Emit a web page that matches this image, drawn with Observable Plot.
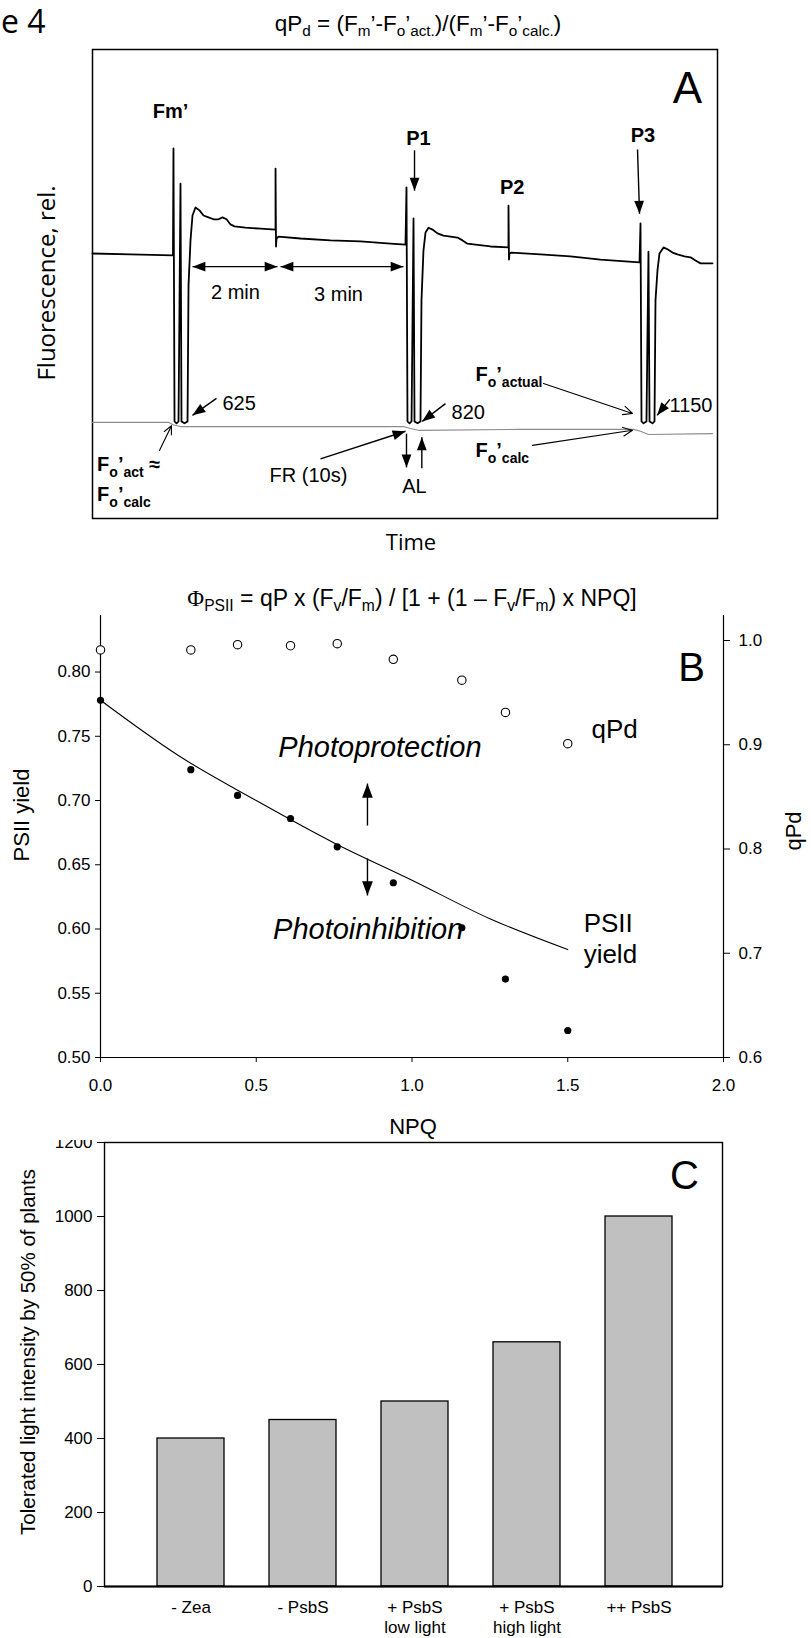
<!DOCTYPE html>
<html><head><meta charset="utf-8">
<script src="https://cdn.jsdelivr.net/npm/d3@7"></script>
<script src="https://cdn.jsdelivr.net/npm/@observablehq/plot@0.6"></script>
<style>
body{margin:0;background:#fff;}
#page{position:relative;width:811px;height:1638px;overflow:hidden;font-family:"Liberation Sans",Arial,sans-serif;color:#000;background:#fff;}
.abs{position:absolute;white-space:nowrap;line-height:1;}
.sb{font-size:0.68em;position:relative;top:0.32em;}
.plot{position:absolute;left:0;}
</style></head><body><div id="page"></div>
<script>
const FONT = '"Liberation Sans", Arial, Helvetica, sans-serif';
const OPEN = '"Open Sans", "Liberation Sans", sans-serif';

// ---------------- Panel A: fluorescence trace (time s, relative fluorescence) ----------------
const traceTime = [0,53.5,113.3,114.0,115.5,118.3,121.1,123.9,125.3,129.5,133.8,135.2,138.0,140.8,145.0,150.7,156.3,163.3,170.4,177.4,183.0,188.7,194.3,199.9,215.4,236.5,257.7,257.7,258.4,259.1,261.9,292.9,335.1,377.3,419.6,440.7,442.1,443.5,446.3,449.2,452.0,453.4,457.6,461.8,463.2,466.0,468.9,473.1,478.7,485.8,494.2,504.1,513.9,521.0,528.0,539.3,560.4,585.7,585.7,586.4,587.1,589.9,630.8,673.0,715.3,770.2,771.6,773.0,775.8,780.0,782.8,784.3,788.5,791.3,792.7,795.5,798.3,804.0,809.6,816.6,823.7,833.5,842.0,849.0,856.1,864.5,873.0];
const traceFluo = [56.5,56.3,56.1,78.9,20.7,20.3,20.7,71.4,20.7,20.3,20.7,49.7,59.3,64.6,66.3,65.7,64.6,64.2,63.8,63.8,64.2,63.8,62.7,62.3,62.0,61.8,61.6,74.6,58.0,59.7,60.1,59.7,59.3,59.1,58.6,58.4,70.6,20.7,20.3,20.7,64.0,20.7,20.3,20.7,46.5,57.1,61.0,62.0,61.6,60.8,60.3,60.1,59.9,59.3,58.6,58.4,58.0,57.8,66.7,55.2,56.5,56.7,56.3,55.9,55.2,54.6,62.9,20.7,20.3,20.7,56.9,20.7,20.3,20.7,46.5,52.9,56.5,57.8,57.4,56.7,56.3,55.9,55.7,55.0,54.4,54.4,54.4];
const calcTime = [0,107.0,113.3,123.9,437.9,447.7,459.0,602.6,761.8,771.6,782.8,873.0];
const calcFluo = [20.5,20.5,20.0,19.6,19.6,19.2,18.8,19.0,19.0,18.6,17.9,18.1];

// annotations of panel A (in time / fluorescence units)
const aBoldLabels = [
  {text:"Fm’", t:109.8, f:86.7},
  {text:"P1", t:459.0, f:80.9},
  {text:"P2", t:590.9, f:70.6},
  {text:"P3", t:775.1, f:81.6}
];
const aRichLabels = [
  {text:"F_{o}’_{act} ≈", t:6.5, f:11.5},
  {text:"F_{o}’_{calc}", t:6.5, f:5.1},
  {text:"F_{o}’_{actual}", t:539.3, f:30.7},
  {text:"F_{o}’_{calc}", t:539.3, f:14.5}
];
const aMidLabels = [
  {text:"2 min", t:201.3, f:48.2},
  {text:"3 min", t:346.4, f:47.8},
  {text:"FR (10s)", t:304.1, f:9.1},
  {text:"AL", t:453.4, f:6.8}
];
const aStartLabels = [
  {text:"625", t:183.0, f:24.4},
  {text:"820", t:505.5, f:22.5},
  {text:"1150", t:812.4, f:24.1}
];
const aSolidArrows = [
  {x1:453.4, y1:78.5, x2:453.4, y2:69.9},
  {x1:767.4, y1:78.7, x2:770.2, y2:65.0},
  {x1:174.6, y1:25.6, x2:140.8, y2:22.0},
  {x1:497.0, y1:24.5, x2:464.2, y2:20.7},
  {x1:812.9, y1:25.4, x2:795.0, y2:22.0},
  {x1:321.0, y1:12.7, x2:440.7, y2:18.6},
  {x1:442.1, y1:18.1, x2:442.1, y2:10.9},
  {x1:463.7, y1:10.7, x2:463.7, y2:17.3}
];
const aDoubleArrows = [
  {x1:140.8, x2:260.5, y:53.7},
  {x1:264.7, x2:437.9, y:53.7}
];
const aOpenArrows = [
  {x1:94.3, y1:14.5, x2:111.2, y2:19.8},
  {x1:635.0, y1:28.8, x2:760.3, y2:22.4},
  {x1:619.5, y1:15.6, x2:760.3, y2:18.8}
];

// ---------------- Panel B ----------------
const npq = [0, 0.29, 0.44, 0.61, 0.76, 0.94, 1.16, 1.30, 1.50];
const psiiYield = [0.778, 0.724, 0.704, 0.686, 0.664, 0.636, 0.601, 0.561, 0.521];
const qPd = [0.991, 0.991, 0.996, 0.995, 0.997, 0.982, 0.962, 0.931, 0.901];
const fitNpq = [0, 0.25, 0.5, 0.75, 1.0, 1.25, 1.5];
const fitYield = [0.778, 0.735, 0.700, 0.667, 0.638, 0.608, 0.584];
const npqTicks = [0, 0.5, 1.0, 1.5, 2.0];
const yieldTicks = [0.50, 0.55, 0.60, 0.65, 0.70, 0.75, 0.80];
const qPdTicks = [0.6, 0.7, 0.8, 0.9, 1.0];
const bItalic = [
  {text:"Photoprotection", x:0.571, y:0.7412},
  {text:"Photoinhibition", x:0.554, y:0.5992}
];
const bPlain = [
  {text:"PSII", x:1.551, y:0.6039},
  {text:"yield", x:1.551, y:0.580},
  {text:"qPd", x:1.576, y:0.7549}
];
const bArrows = [
  {x1:0.857, y1:0.6805, x2:0.857, y2:0.7132},
  {x1:0.857, y1:0.6549, x2:0.857, y2:0.6261}
];

// ---------------- Panel C ----------------
const groups = ["- Zea", "- PsbS", "+ PsbS\nlow light", "+ PsbS\nhigh light", "++ PsbS"];
const tolerated = [400, 450, 500, 660, 1000];
const lightTicks = [0, 200, 400, 600, 800, 1000, 1200];

// ---------------- helpers ----------------
const page = document.getElementById("page");
const tipSymbol = {draw(ctx, size){ const L = Math.sqrt(size)*1.45, w = L*0.38; ctx.moveTo(0,0); ctx.lineTo(-L,-w); ctx.lineTo(-L,w); ctx.closePath(); }};
function heads(arr, X, Y){
  return arr.map(d => ({x:d.x2, y:d.y2, angle: Math.atan2(Y(d.y2)-Y(d.y1), X(d.x2)-X(d.x1))*180/Math.PI}));
}
function place(svg, top){ svg.classList.add("plot"); svg.style.top = top+"px"; svg.style.left = "0px"; page.appendChild(svg); }
function label(html, x, y, o={}){
  const d = document.createElement("div"); d.className = "abs"; d.innerHTML = html;
  Object.assign(d.style, {left:x+"px", top:y+"px", fontSize:(o.size||22)+"px", fontFamily:o.family||FONT,
    fontWeight:o.weight||"normal", fontStyle:o.style||"normal",
    transform:`translate(${o.ax===undefined?-50:o.ax}%,-50%)${o.rotate?" rotate(-90deg)":""}`});
  page.appendChild(d); return d;
}
function richify(svg, fs){
  svg.querySelectorAll("text").forEach(t => {
    const s = t.textContent; if (!s.includes("_{")) return;
    while (t.firstChild) t.removeChild(t.firstChild);
    const parts = s.split(/(_\{[^}]*\})/).filter(p => p);
    let down = false; const sh = Math.round(fs*0.3);
    for (const p of parts){
      const ts = document.createElementNS("http://www.w3.org/2000/svg","tspan");
      if (p.startsWith("_{")){ ts.textContent = p.slice(2,-1); ts.setAttribute("font-size", Math.round(fs*0.68)); if(!down){ts.setAttribute("dy", sh); down = true;} }
      else { ts.textContent = p; if(down){ts.setAttribute("dy", -sh); down = false;} }
      t.appendChild(ts);
    }
  });
}

// ---------------- Panel A plot ----------------
const ax = d3.scaleLinear([0,880],[92,717]);
const ay = d3.scaleLinear([0,100],[518,49]);
const trace = traceTime.map((t,i)=>({t, f:traceFluo[i]}));
const calc = calcTime.map((t,i)=>({t, f:calcFluo[i]}));
const aDoubleAsSingle = aDoubleArrows.flatMap(d => [{x1:d.x2, y1:d.y, x2:d.x1, y2:d.y},{x1:d.x1, y1:d.y, x2:d.x2, y2:d.y}]);
const aHeads = heads([...aSolidArrows, ...aDoubleAsSingle], ax, ay);

const plotA = Plot.plot({
  width:811, height:545, marginLeft:92, marginRight:94, marginTop:49, marginBottom:27,
  style:{fontFamily:FONT, background:"transparent", color:"black"},
  x:{domain:[0,880], axis:null}, y:{domain:[0,100], axis:null},
  marks:[
    Plot.frame({stroke:"black", strokeWidth:1.5}),
    Plot.line(calc, {x:"t", y:"f", stroke:"#8c8c8c", strokeWidth:1.1}),
    Plot.line(trace, {x:"t", y:"f", stroke:"black", strokeWidth:1.8}),
    Plot.link(aSolidArrows, {x1:"x1", y1:"y1", x2:"x2", y2:"y2", stroke:"black", strokeWidth:1.4}),
    Plot.link(aDoubleArrows, {x1:"x1", y1:"y", x2:"x2", y2:"y", stroke:"black", strokeWidth:1.4}),
    Plot.dot(aHeads, {x:"x", y:"y", r:5, symbol:tipSymbol, rotate:"angle", fill:"black", stroke:"none"}),
    Plot.arrow(aOpenArrows, {x1:"x1", y1:"y1", x2:"x2", y2:"y2", stroke:"black", strokeWidth:1.1, headLength:14, headAngle:50}),
    Plot.text(aBoldLabels, {x:"t", y:"f", text:"text", fontSize:20, fontWeight:"bold", textAnchor:"middle"}),
    Plot.text(aRichLabels, {x:"t", y:"f", text:"text", fontSize:20, fontWeight:"bold", textAnchor:"start"}),
    Plot.text(aMidLabels, {x:"t", y:"f", text:"text", fontSize:20, textAnchor:"middle"}),
    Plot.text(aStartLabels, {x:"t", y:"f", text:"text", fontSize:20, textAnchor:"start"}),
    Plot.text(["A"], {frameAnchor:"top-right", dx:-30, dy:39, text:d=>d, fontSize:44, textAnchor:"middle", lineAnchor:"middle"})
  ]
});
richify(plotA, 20);
place(plotA, 0);

// ---------------- Panel B plots ----------------
const pts = npq.map((x,i)=>({x, y:psiiYield[i], q:qPd[i]}));
const fit = fitNpq.map((x,i)=>({x, y:fitYield[i]}));
const bHeads = heads(bArrows, d3.scaleLinear([0,2],[100,723]), d3.scaleLinear([0.5,0.844],[1057,615]));
const plotB = Plot.plot({
  width:811, height:510, marginLeft:100, marginRight:88, marginTop:15, marginBottom:53,
  style:{fontFamily:FONT, fontSize:"17px", background:"transparent", color:"black"},
  x:{domain:[0,2], ticks:npqTicks, tickFormat:".1f", tickSize:5, tickPadding:16, label:null},
  y:{domain:[0.5,0.844], ticks:yieldTicks, tickFormat:".2f", tickSize:5, tickPadding:5, label:null},
  marks:[
    Plot.ruleX([0], {stroke:"black", strokeWidth:1.2}),
    Plot.ruleX([2], {stroke:"black", strokeWidth:1.2}),
    Plot.ruleY([0.5], {stroke:"black", strokeWidth:1.2}),
    Plot.line(fit, {x:"x", y:"y", curve:"monotone-x", stroke:"black", strokeWidth:1.1}),
    Plot.dot(pts, {x:"x", y:"y", r:3.6, fill:"black", stroke:"none"}),
    Plot.link(bArrows, {x1:"x1", y1:"y1", x2:"x2", y2:"y2", stroke:"black", strokeWidth:1.4}),
    Plot.dot(bHeads, {x:"x", y:"y", r:5.5, symbol:tipSymbol, rotate:"angle", fill:"black", stroke:"none"}),
    Plot.text(bItalic, {x:"x", y:"y", text:"text", fontSize:29, fontStyle:"italic", textAnchor:"start"}),
    Plot.text(bPlain, {x:"x", y:"y", text:"text", fontSize:26, textAnchor:"start"}),
    Plot.text(["B"], {frameAnchor:"top-right", dx:-32, dy:53, text:d=>d, fontSize:40, textAnchor:"middle", lineAnchor:"middle"})
  ]
});
place(plotB, 600);

const plotB2 = Plot.plot({
  width:811, height:510, marginLeft:100, marginRight:88, marginTop:15, marginBottom:53,
  style:{fontFamily:FONT, fontSize:"17px", background:"transparent", color:"black"},
  x:{domain:[0,2], axis:null},
  y:{domain:[0.6,1.024], axis:"right", ticks:qPdTicks, tickFormat:".1f", tickSize:6, tickPadding:9, label:null},
  marks:[
    Plot.dot(pts, {x:"x", y:"q", r:4.2, fill:"white", stroke:"black", strokeWidth:1.1})
  ]
});
place(plotB2, 600);

// ---------------- Panel C plot ----------------
const bars = groups.map((g,i)=>({g, v:tolerated[i]}));
const plotC = Plot.plot({
  width:811, height:508, marginLeft:104, marginRight:89, marginTop:12, marginBottom:52,
  style:{fontFamily:FONT, fontSize:"17px", background:"transparent", color:"black"},
  x:{domain:groups, range:[133.75, 696.25], paddingInner:0.4, paddingOuter:0.2, axis:null},
  y:{domain:[0,1200], ticks:lightTicks, tickFormat:d3.format("d"), tickSize:7, tickPadding:5, label:null},
  marks:[
    Plot.barY(bars, {x:"g", y:"v", fill:"#c0c0c0", stroke:"black", strokeWidth:1.3}),
    Plot.frame({stroke:"black", strokeWidth:1.4}),
    Plot.ruleY([0], {stroke:"black", strokeWidth:2}),
    Plot.text(groups, {x:d=>d, text:d=>d, frameAnchor:"bottom", lineAnchor:"top", dy:13, fontSize:17, lineHeight:1.15}),
    Plot.text(["C"], {frameAnchor:"top-right", dx:-38, dy:34, text:d=>d, fontSize:40, textAnchor:"middle", lineAnchor:"middle"})
  ]
});
place(plotC, 1130);

// ---------------- titles and axis labels ----------------
label("e 4", 1, 21, {size:32, family:OPEN, ax:0});
label('qP<span class="sb">d</span> = (F<span class="sb">m</span>’-F<span class="sb">o</span>’<span class="sb">act.</span>)/(F<span class="sb">m</span>’-F<span class="sb">o</span>’<span class="sb">calc.</span>)', 418, 24, {size:22.5});
label("Fluorescence, rel.", 46, 283, {size:24, family:OPEN, rotate:true});
label("Time", 411, 541, {size:22, family:OPEN});
label('<span style="font-family:\'Liberation Serif\',serif">Φ</span><span class="sb">PSII</span> = qP x (F<span class="sb">v</span>/F<span class="sb">m</span>) / [1 + (1 – F<span class="sb">v</span>/F<span class="sb">m</span>) x NPQ]', 412, 598, {size:23});
label("PSII yield", 22, 815, {size:22, rotate:true});
label("qPd", 794, 831, {size:22, rotate:true});
label("NPQ", 413, 1127, {size:22});
label("Tolerated light intensity by 50% of plants", 28, 1352, {size:20.5, rotate:true});
// the top of the "1200" tick label is hidden in the figure
const mask = document.createElement("div");
Object.assign(mask.style, {position:"absolute", left:"40px", top:"1124px", width:"58px", height:"16px", background:"#fff"});
page.appendChild(mask);
</script></body></html>
